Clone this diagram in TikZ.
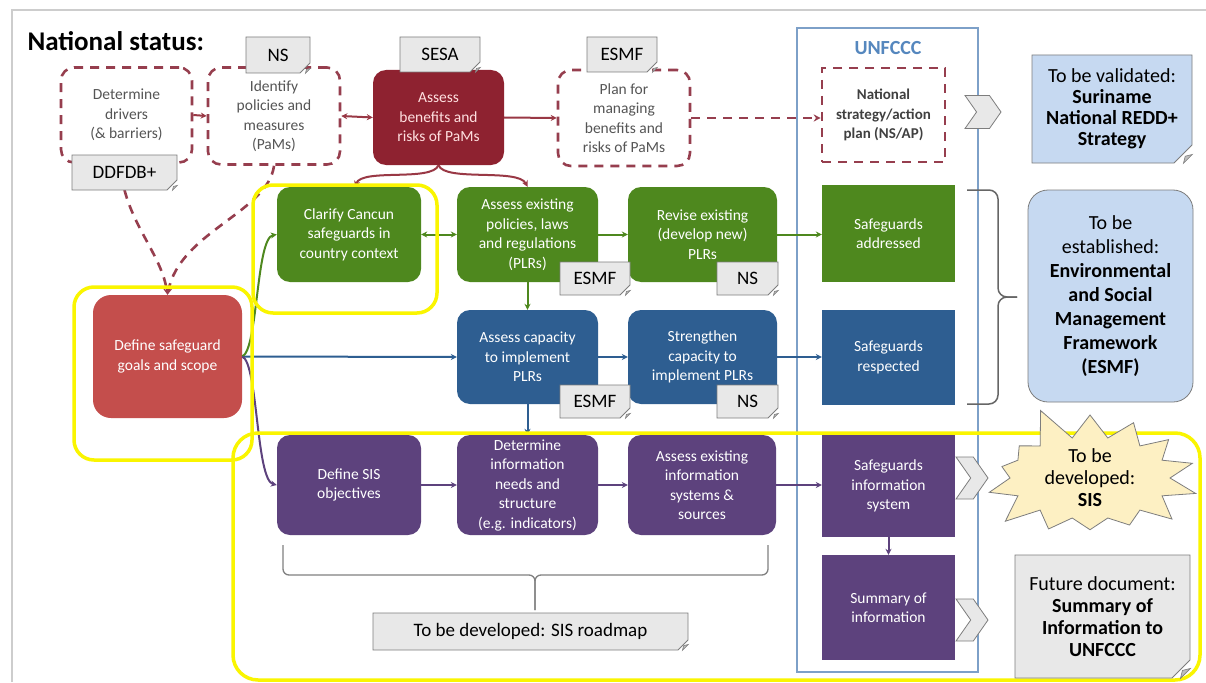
\documentclass[tikz,border=0pt]{standalone}
\usepackage{fontspec}
\setmainfont{Carlito}
\usetikzlibrary{arrows.meta,shapes.misc,shapes.symbols,calc}
\definecolor{dred}{RGB}{142,34,48}
\definecolor{dashred}{RGB}{150,62,78}
\definecolor{gbox}{RGB}{78,136,30}
\definecolor{bbox}{RGB}{46,94,145}
\definecolor{pbox}{RGB}{93,66,125}
\definecolor{rbox}{RGB}{196,78,76}
\definecolor{tagfill}{RGB}{232,232,232}
\definecolor{tagdraw}{RGB}{125,125,125}
\definecolor{foldgray}{RGB}{190,190,190}
\definecolor{notefill}{RGB}{198,217,241}
\definecolor{starfill}{RGB}{253,240,195}
\definecolor{ublue}{RGB}{125,160,200}
\definecolor{utext}{RGB}{85,135,190}
\definecolor{ygl}{RGB}{250,245,0}
\definecolor{dashtext}{RGB}{85,85,85}
\definecolor{framegray}{RGB}{205,205,205}
\newcommand{\foldc}[2]{%
  \coordinate (#1-c) at (#1.south -| #1.east);
  \filldraw[fill=foldgray, draw=tagdraw, line width=0.6pt]
    ([xshift=-#2pt]#1-c) -- ([yshift=#2pt]#1-c) -- ([xshift=-0.8*#2pt, yshift=0.8*#2pt]#1-c) -- cycle;}
\tikzset{
  sz/.style 2 args={minimum width=#1pt, minimum height=#2pt},
  box/.style={rounded corners=13pt, align=center, inner sep=1pt, text=white, font=\fontsize{15.5}{19.5}\selectfont},
  dbox/.style={box, draw=dashred, line width=2.6pt, dash pattern=on 9pt off 7pt, fill=white, text=dashtext},
  sbox/.style={box, rounded corners=0pt},
  tag/.style={chamfered rectangle, chamfered rectangle corners=south east, chamfered rectangle sep=5pt,
     draw=tagdraw, line width=0.8pt, fill=tagfill, font=\fontsize{19}{22}\selectfont, inner sep=1pt},
  note/.style={tag, chamfered rectangle sep=9pt, align=center, font=\fontsize{20}{21}\selectfont},
  chev/.style={signal, signal to=east, signal from=west, signal pointer angle=110, draw=tagdraw, fill=tagfill, line width=0.8pt, inner sep=0pt},
  ybox/.style={draw=ygl, line width=3.5pt, rounded corners=20pt},
  tipr/.style={-{Stealth[length=6pt,width=6pt]}},
  arr/.style={line width=2pt, tipr},
  rarr/.style={arr, draw=dred!90},
  garr/.style={arr, draw=gbox},
  barr/.style={arr, draw=bbox},
  parr/.style={arr, draw=pbox},
  darr/.style={line width=2.6pt, draw=dashred, dash pattern=on 9pt off 7pt, -{Stealth[length=7pt,width=7pt]}},
}
\begin{document}
\begin{tikzpicture}[x=1pt,y=-1pt]
\useasboundingbox (0,0) rectangle (1206,682);
\fill[white] (0,0) rectangle (1206,682);
\draw[framegray, line width=1.2pt] (12,682) -- (12,10) -- (1206,10);

% UNFCCC container
\draw[ublue, line width=1.6pt] (797,28) rectangle (978,672);
\node[font=\fontsize{20}{22}\selectfont\bfseries, text=utext] (ulab) at (888,48) {UNFCCC};

\node[anchor=west, font=\fontsize{27}{30}\selectfont\bfseries] (title) at (24,41) {National status:};

% top row
\node[dbox, sz={131}{95}] (drv) at (126.5,115) {Determine\\drivers\\(\& barriers)};
\node[dbox, sz={132}{97}] (pam) at (274,116) {Identify\\policies and\\measures\\(PaMs)};
\node[box, fill=dred, sz={131}{95}, text=white!88!red] (abr) at (438.5,117.5) {Assess\\benefits and\\risks of PaMs};
\node[dbox, sz={132}{96}] (plan) at (624,118) {Plan for\\managing\\benefits and\\risks of PaMs};
\node[dbox, rounded corners=0pt, sz={123}{94}, text=black!75, font=\fontsize{15}{19.5}\selectfont\bfseries] (nsap) at (883.5,115) {National\\strategy/action\\plan (NS/AP)};

% green row
\node[box, fill=gbox, sz={144}{95}] (cc) at (349,234.5) {Clarify Cancun\\safeguards in\\country context};
\node[box, fill=gbox, sz={141}{95}] (aep) at (527.5,234.5) {Assess existing\\policies, laws\\and regulations\\(PLRs)};
\node[box, fill=gbox, sz={149}{95}] (rev) at (702.5,234.5) {Revise existing\\(develop new)\\PLRs};
\node[sbox, fill=gbox, sz={133}{97}] (sa) at (888.5,233.5) {Safeguards\\addressed};

% blue row
\node[box, fill=bbox, sz={141}{94}] (acp) at (527.5,357) {Assess capacity\\to implement\\PLRs};
\node[box, fill=bbox, sz={149}{94}] (stc) at (702.5,357) {Strengthen\\capacity to\\implement PLRs};
\node[sbox, fill=bbox, sz={133}{95}] (sr) at (888.5,357.5) {Safeguards\\respected};

% define
\node[box, fill=rbox, sz={149}{123}, rounded corners=18pt] (dsg) at (167.5,356.5) {Define safeguard\\goals and scope};

% purple row
\node[box, fill=pbox, sz={144}{100}] (dso) at (349,485) {Define SIS\\objectives};
\node[box, fill=pbox, sz={141}{100}] (din) at (527.5,485) {Determine\\information\\needs and\\structure\\(e.g. indicators)};
\node[box, fill=pbox, sz={148}{100}] (aei) at (702,485) {Assess existing\\information\\systems \&\\sources};
\node[sbox, fill=pbox, sz={133}{102}] (sis) at (888.5,486) {Safeguards\\information\\system};
\node[sbox, fill=pbox, sz={133}{105}] (soi) at (888.5,607.5) {Summary of\\information};

% connectors
\draw[rarr] (drv.east) -- (pam.west);
\draw[rarr, {Stealth[length=6pt,width=6pt]}-{Stealth[length=6pt,width=6pt]}] (pam.east) -- (abr.west);
\draw[rarr] (abr.east) -- (plan.west);
\draw[darr] (plan.east) -- (plan.east -| nsap.west);
\draw[rarr] (abr.south) .. controls (432,182) and (362,168) .. ([xshift=6pt]cc.north);
\draw[rarr] (abr.south) .. controls (445,182) and (518,168) .. (aep.north);
\draw[darr] (pam.south) .. controls (268,212) and (180,232) .. (dsg.north);
\draw[darr] (124.5,190) .. controls (135,230) and (162,258) .. (dsg.north);

\draw[garr, {Stealth[length=6pt,width=6pt]}-{Stealth[length=6pt,width=6pt]}] (cc.east) -- (aep.west);
\draw[garr] (aep.east) -- (rev.west);
\draw[garr] (rev.east) -- (rev.east -| sa.west);
\draw[garr] (aep.south) -- (acp.north);

\draw[barr] (dsg.east) -- (acp.west);
\draw[barr] (acp.east) -- (stc.west);
\draw[barr] (stc.east) -- (stc.east -| sr.west);
\draw[barr] (acp.south) -- (din.north);

\draw[garr] (dsg.east) .. controls (258,350) and (256,238) .. (cc.west);
\draw[parr] (dsg.east) .. controls (258,363) and (256,480) .. (dso.west);

\draw[parr] (dso.east) -- (din.west);
\draw[parr] (din.east) -- (aei.west);
\draw[parr] (aei.east) -- (aei.east -| sis.west);
\draw[parr] (sis.south) -- (soi.north);

% yellow highlights
\draw[ybox] (253,185) rectangle (437,313);
\draw[ybox] (74,287) rectangle (252,460);
\draw[ybox, rounded corners=25pt] (233,433) rectangle (1200,680);

% tags
\node[tag, sz={64}{36}] (tNSa) at (278,55) {NS}; \foldc{tNSa}{5}
\node[tag, sz={80}{35}] (tSESA) at (440,54.5) {SESA}; \foldc{tSESA}{5}
\node[tag, sz={70}{35}] (tESMFa) at (622,54.5) {ESMF}; \foldc{tESMFa}{5}
\node[tag, sz={105}{35}] (tDD) at (124.5,172.5) {DDFDB+}; \foldc{tDD}{5}
\node[tag, sz={70}{33}] (tESMFb) at (595,278.5) {ESMF}; \foldc{tESMFb}{5}
\node[tag, sz={61}{33}] (tNSb) at (747.5,278.5) {NS}; \foldc{tNSb}{5}
\node[tag, sz={70}{33}] (tESMFc) at (595,401.5) {ESMF}; \foldc{tESMFc}{5}
\node[tag, sz={61}{33}] (tNSc) at (747.5,401.5) {NS}; \foldc{tNSc}{5}
\node[tag, sz={315}{37}] (troad) at (530.5,631.5) {To be developed: SIS roadmap}; \foldc{troad}{6}

% bracket under SIS roadmap steps
\draw[black!50, line width=1.3pt, rounded corners=6pt] (283,545) -- (283,575) -- (535,575) -- (535,610);
\draw[black!50, line width=1.3pt, rounded corners=6pt] (768,545) -- (768,575) -- (535,575) -- (535,610);

% brace
\draw[black!60, line width=1.5pt, rounded corners=9pt] (967,190) -- (998,190) -- (998,297) -- (1017,297);
\draw[black!60, line width=1.5pt, rounded corners=9pt] (967,404) -- (998,404) -- (998,297) -- (1017,297);

% chevrons
\node[chev, sz={36}{33}] (chA) at (983,112) {};
\node[chev, sz={32}{42}] (chB) at (972,478) {};
\node[chev, sz={32}{42}] (chC) at (972,620) {};

% notes
\node[note, fill=notefill, sz={160}{108}] (nval) at (1112,109) {To be validated:\\\textbf{Suriname}\\\textbf{National REDD+}\\\textbf{Strategy}}; \foldc{nval}{9}
\node[rounded corners=20pt, draw=tagdraw, line width=0.8pt, fill=notefill, sz={165}{212}, align=center, font=\fontsize{20}{24}\selectfont] (nest) at (1110.5,296) {To be\\established:\\\textbf{Environmental}\\\textbf{and Social}\\\textbf{Management}\\\textbf{Framework}\\\textbf{(ESMF)}};
\node[starburst, starburst points=14, starburst point height=36pt, random starburst=5, draw=tagdraw, line width=0.8pt, fill=starfill, sz={232}{150}, inner sep=0pt, align=center, font=\fontsize{20}{22}\selectfont] (nsis) at (1090,478) {To be\\developed:\\\textbf{SIS}};
\node[note, fill=tagfill, sz={175}{123}, font=\fontsize{20}{22}\selectfont] (nfut) at (1102.5,616.5) {Future document:\\\textbf{Summary of}\\\textbf{Information to}\\\textbf{UNFCCC}}; \foldc{nfut}{10}
\end{tikzpicture}
\end{document}
